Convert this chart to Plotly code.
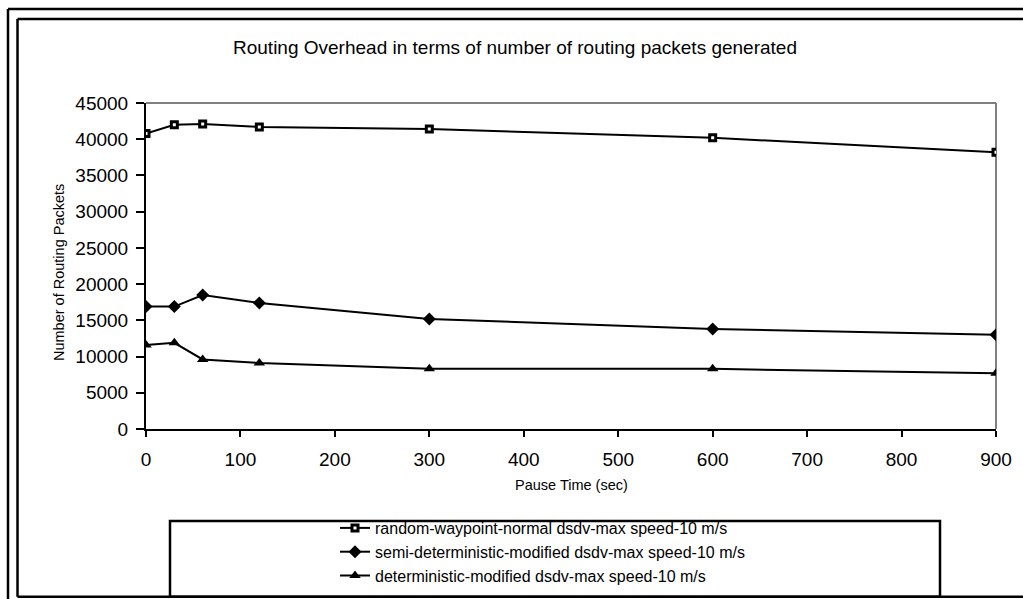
import plotly.graph_objects as go

# ---- data ----
pause_time = [0, 30, 60, 120, 300, 600, 900]
random_waypoint = [40800, 42000, 42100, 41700, 41400, 40200, 38200]
semi_deterministic = [16900, 16900, 18500, 17400, 15200, 13800, 13000]
deterministic = [11600, 11900, 9600, 9100, 8300, 8300, 7700]

names = [
    "random-waypoint-normal dsdv-max speed-10 m/s",
    "semi-deterministic-modified dsdv-max speed-10 m/s",
    "deterministic-modified dsdv-max speed-10 m/s",
]

FONT = "Liberation Sans, Arial, sans-serif"
W, H = 1023, 599
L, R, T, B = 146, 996, 103, 429


def px2x(px):
    return (px - L) / (R - L)


def py2y(py):
    return (B - py) / (B - T)


fig = go.Figure()
fig.add_trace(go.Scatter(
    x=pause_time, y=random_waypoint, name=names[0], mode="lines+markers",
    line=dict(color="black", width=2),
    marker=dict(symbol="square", size=6, color="white",
                line=dict(color="black", width=3)),
))
fig.add_trace(go.Scatter(
    x=pause_time, y=semi_deterministic, name=names[1], mode="lines+markers",
    line=dict(color="black", width=2),
    marker=dict(symbol="diamond", size=10, color="black"),
))
fig.add_trace(go.Scatter(
    x=pause_time, y=deterministic, name=names[2], mode="lines+markers",
    line=dict(color="black", width=2),
    marker=dict(symbol="triangle-up", size=10, color="black"),
))

shapes = []
# plot area top and right borders (gray)
shapes.append(dict(type="line", xref="paper", yref="paper", x0=0, x1=1, y0=1, y1=1,
                   line=dict(color="#808080", width=2), layer="below"))
shapes.append(dict(type="line", xref="paper", yref="paper", x0=1, x1=1, y0=0, y1=1,
                   line=dict(color="#808080", width=2), layer="below"))
# outer double frame
for px, top, bottom in ((8, 9, 640), (17.5, 19, 596.7)):
    shapes.append(dict(type="line", xref="paper", yref="paper",
                       x0=px2x(px), x1=px2x(px), y0=py2y(top), y1=py2y(bottom),
                       line=dict(color="black", width=2.5)))
    shapes.append(dict(type="line", xref="paper", yref="paper",
                       x0=px2x(px), x1=px2x(1100), y0=py2y(top), y1=py2y(top),
                       line=dict(color="black", width=2.5)))
shapes.append(dict(type="line", xref="paper", yref="paper",
                   x0=px2x(17.5), x1=px2x(1100), y0=py2y(596.7), y1=py2y(596.7),
                   line=dict(color="black", width=2.5)))
# legend box
shapes.append(dict(type="rect", xref="paper", yref="paper",
                   x0=px2x(170), x1=px2x(940), y0=py2y(521), y1=py2y(596.7),
                   line=dict(color="black", width=2.5)))

annotations = [
    dict(text="Routing Overhead in terms of number of routing packets generated",
         xref="paper", yref="paper", x=px2x(515), y=py2y(47),
         xanchor="center", yanchor="middle", showarrow=False,
         font=dict(family=FONT, size=19, color="black")),
    dict(text="Pause Time (sec)", xref="paper", yref="paper",
         x=0.5, y=py2y(485), xanchor="center", yanchor="middle", showarrow=False,
         font=dict(family=FONT, size=14.5, color="black")),
    dict(text="Number of Routing Packets", xref="paper", yref="paper",
         x=px2x(59), y=py2y(273), xanchor="center", yanchor="middle", showarrow=False,
         textangle=-90, font=dict(family=FONT, size=14.5, color="black")),
]

fig.update_layout(
    width=W, height=H,
    margin=dict(l=L, r=W - R, t=T, b=H - B, autoexpand=False),
    paper_bgcolor="white", plot_bgcolor="white",
    font=dict(family=FONT, color="black"),
    showlegend=True,
    legend=dict(x=px2x(335), y=py2y(511), xanchor="left", yanchor="top",
                bgcolor="rgba(0,0,0,0)", borderwidth=0,
                font=dict(family=FONT, size=16, color="black"),
                tracegroupgap=0, itemwidth=30),
    shapes=shapes,
    annotations=annotations,
)
fig.update_xaxes(range=[0, 900], dtick=100, tick0=0, showgrid=False, zeroline=False,
                 showline=True, linecolor="black", linewidth=2,
                 ticks="outside", ticklen=6, tickwidth=2, tickcolor="black",
                 ticklabelstandoff=6,
                 tickfont=dict(family=FONT, size=19, color="black"))
fig.update_yaxes(range=[0, 45000], dtick=5000, tick0=0, showgrid=False, zeroline=False,
                 showline=True, linecolor="black", linewidth=2,
                 ticks="outside", ticklen=8, tickwidth=2, tickcolor="black",
                 tickformat="d", ticklabelstandoff=4,
                 tickfont=dict(family=FONT, size=19, color="black"))

fig.write_html("out.html")
